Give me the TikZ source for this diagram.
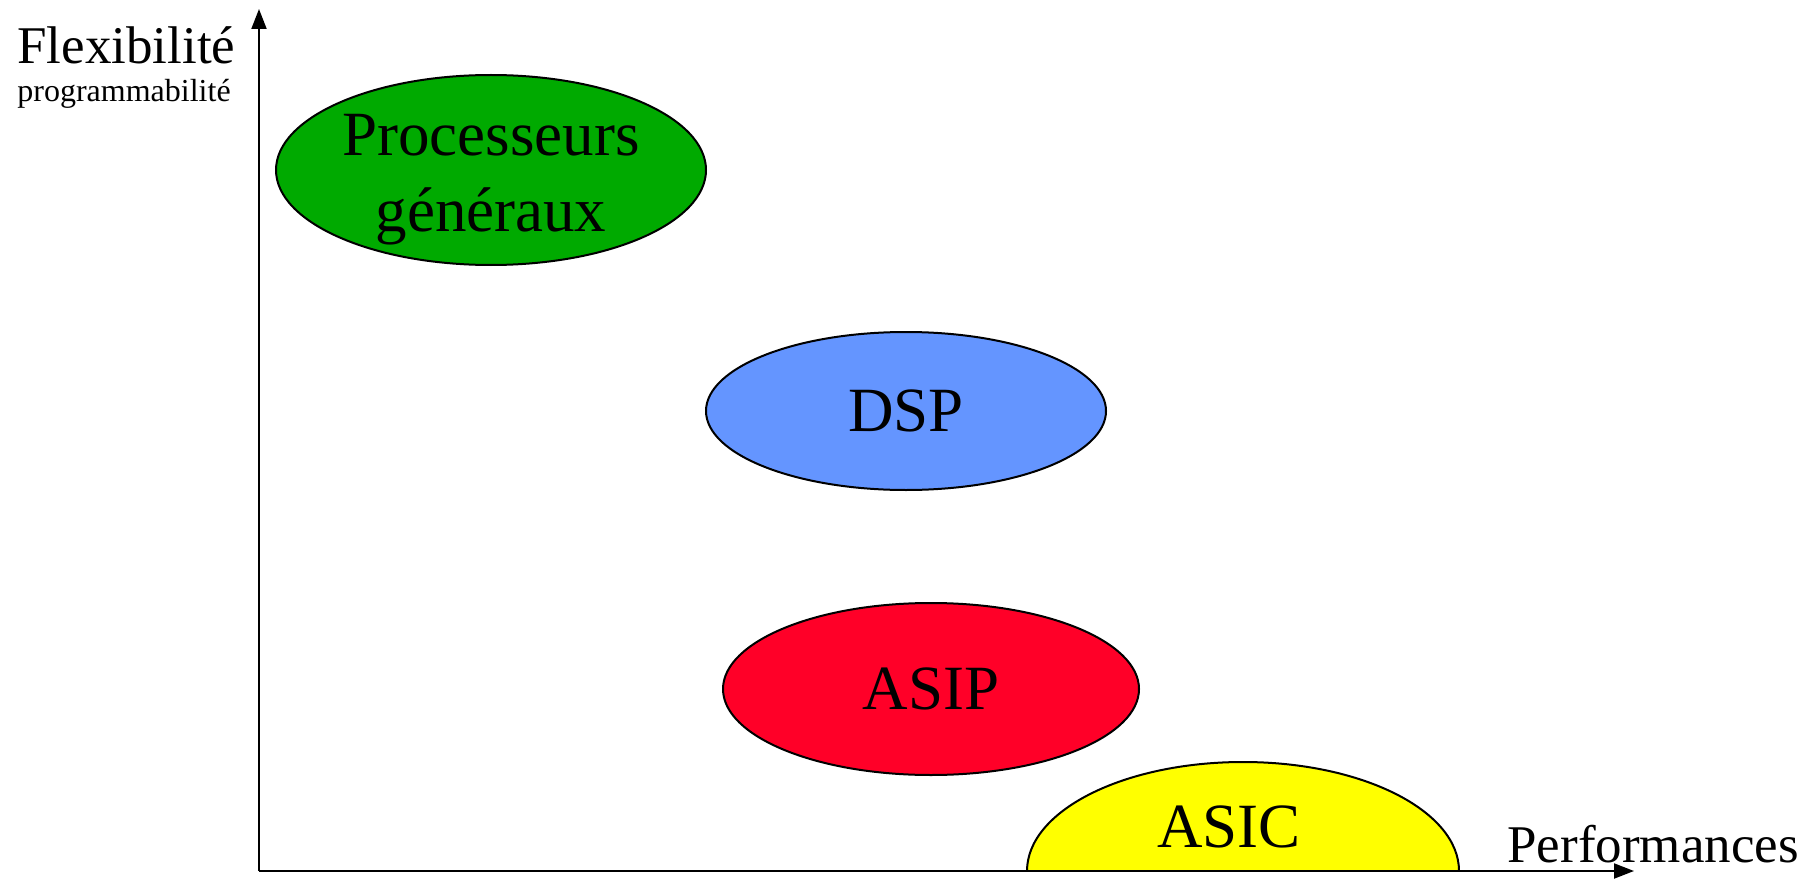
\documentclass[tikz,border=0pt]{standalone}
\usepackage{fontspec}
\setmainfont{Liberation Serif}
\usetikzlibrary{shapes.geometric}
\usetikzlibrary{arrows.meta}

\definecolor{procgreen}{RGB}{0,170,0}
\definecolor{dspblue}{RGB}{100,149,255}
\definecolor{asipred}{RGB}{255,0,40}
\definecolor{asicyellow}{RGB}{255,255,0}

\tikzset{
  family/.style={ellipse,draw,line width=1pt,inner sep=0pt,align=center,
    font=\fontsize{31.5}{37.5}\selectfont},
  familytext/.style={inner sep=0pt,align=center,font=\fontsize{31.5}{38}\selectfont},
  axislabel/.style={inner sep=0pt,font=\fontsize{26.5}{30}\selectfont},
  axis/.style={line width=1pt,-{Triangle[length=10pt,width=7.5pt]}}
}

\begin{document}
\begin{tikzpicture}[x=0.5pt,y=0.5pt]
  \useasboundingbox (0,0) rectangle (1814,880);

  \coordinate (O) at (259,9);
  \coordinate (ytop) at (259,871);
  \coordinate (xend) at (1634,9);

  % ASIC sits on the horizontal axis: half ellipse
  \coordinate (asicbase) at (1243,9);
  \fill[asicyellow] ([xshift=-108pt]asicbase) arc[start angle=180,end angle=0,x radius=108pt,y radius=54.5pt] -- cycle;
  \draw[line width=1pt] ([xshift=-108pt]asicbase) arc[start angle=180,end angle=0,x radius=108pt,y radius=54.5pt];
  \node[familytext] (asic) at (1229,53) {ASIC};

  \node[family,fill=procgreen,minimum width=215pt,minimum height=95pt] (proc) at (491,710) {};
  \node[familytext] (proctext) at ([yshift=-5pt]proc.center) {Processeurs\\g\'en\'eraux};
  \node[family,fill=dspblue,minimum width=200pt,minimum height=79pt] (dsp) at (906,469) {DSP};
  \node[family,fill=asipred,minimum width=208pt,minimum height=86pt] (asip) at (931,191) {ASIP};

  % axes
  \draw[axis] (O) -- (ytop);
  \draw[axis] (O) -- (xend);

  \node[axislabel,anchor=base west] (flex) at (17,816) {Flexibilit\'e};
  \node[axislabel,anchor=base west,font=\fontsize{16}{18}\selectfont] (prog) at (17,778) {programmabilit\'e};
  \node[axislabel,anchor=base west] (perf) at (1507,18) {Performances};
\end{tikzpicture}
\end{document}
